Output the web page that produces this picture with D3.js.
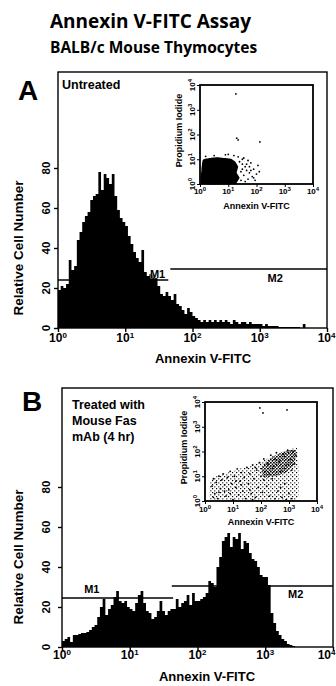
<!DOCTYPE html>
<html>
<head>
<meta charset="utf-8">
<script src="https://cdn.jsdelivr.net/npm/d3@7"></script>
<style>
  body { margin: 0; background: #fff; }
  svg { display: block; font-family: "Liberation Sans", Arial, sans-serif; }
</style>
</head>
<body>
<svg id="chart" width="336" height="686"></svg>
<script>
// ---- data ----
const decades = [0, 1, 2, 3, 4];          // log10 of the axis ticks
const countTicks = [0, 20, 40, 60, 80];
const binStep = 0.04;                      // each channel is 0.04 decade wide

// relative cell number per channel, panel A (untreated)
const histA = [19, 21, 20, 22, 34, 29, 31, 44, 48, 53,
  56, 58, 64, 66, 67, 78, 69, 77, 75, 72,
  77, 66, 59, 55, 53, 51, 46, 42, 38, 35,
  33, 39, 28, 26, 27, 27, 25, 21, 17, 16,
  18, 16, 14, 17, 12, 11, 9, 7, 10, 8,
  6, 5, 4, 3, 4, 3, 4, 3, 4, 3,
  4, 3, 4, 3, 2, 4, 3, 2, 3, 3,
  2, 3, 2, 2, 2, 2, 1, 2, 1, 1,
  1, 1, 0.5, 0.5, 0.5, 0.5, 0.5, 0.5, 0.5, 0.5,
  0, 2, 0, 0, 0, 0, 0, 0, 0, 0];

// panel B (Fas mAb, 4 hr)
const histB = [3, 4, 5, 2.5, 6, 6, 6.5, 7, 7, 7.5,
  8.5, 10, 11, 15, 20, 24, 16, 19, 21, 25,
  28, 23, 22, 23, 20, 19, 18, 22, 26, 28,
  22, 18, 17, 14, 15, 18, 23, 18, 16, 18,
  19, 19, 24, 20, 22, 23, 26, 21, 27, 23,
  23, 24, 25, 27, 33, 32, 30, 40, 45, 53,
  55, 57, 50, 55, 54, 57, 49, 53, 52, 47,
  44, 43, 40, 36, 35, 35, 31, 17, 12, 8,
  6, 4, 3, 1.5, 1, 0.5, 0, 0, 0, 0,
  0, 0, 0, 0, 0, 0, 0, 0, 0, 0];

// gates: range in decades, height in cell number
const gatesA = [{ name: "M1", lo: 0, hi: 1.64, level: 24 }, { name: "M2", lo: 1.67, hi: 4, level: 29.5 }];
const gatesB = [{ name: "M1", lo: 0, hi: 1.64, level: 24.5 }, { name: "M2", lo: 1.62, hi: 4, level: 30.5 }];

// dot plots, [log Annexin, log PI]
const coreA = [[0.05, 0], [0.05, 0.55], [0.1, 0.98], [0.35, 1.05], [0.6, 1.08], [0.85, 1.05], [1.1, 1.02],
  [1.25, 0.9], [1.35, 0.7], [1.3, 0.45], [1.4, 0.25], [1.3, 0.05], [1.25, 0]];
const dotsA = [[1.4, 0.9], [1.5, 0.8], [1.45, 0.5], [1.55, 0.35], [1.6, 0.7], [1.65, 0.55], [1.7, 0.2],
  [1.75, 0.45], [1.8, 0.85], [1.85, 0.3], [1.9, 0.6], [1.95, 0.15], [2.0, 0.4], [2.05, 0.75], [1.5, 1.0],
  [1.35, 1.1], [1.2, 1.15], [0.9, 1.18], [0.5, 1.15], [1.6, 0.1], [1.7, 0.95], [1.45, 0.15], [1.55, 1.05],
  [1.8, 0.55], [1.9, 0.25], [2.1, 0.5], [1.65, 0.8], [0.2, 1.12], [1.0, 1.2], [1.5, 0.6], [1.75, 0.7],
  [1.27, 3.64], [1.35, 1.78], [2.12, 1.7], [1.3, 1.85]];

const bandB = [[0.2, 0.05], [0.2, 0.8], [0.5, 1.05], [1.0, 1.2], [1.5, 1.4], [2.0, 1.6], [2.5, 1.85],
  [3.0, 2.05], [3.3, 2.1], [3.3, 0.05], [1.7, 0.02]];
const coreB = [[2.0, 1.35], [2.3, 1.7], [2.7, 1.95], [3.0, 2.05], [3.25, 2.05], [3.2, 1.5], [2.9, 1.15],
  [2.5, 1.0], [2.1, 0.95]];
const dotsB = [[0.25, 0.6], [0.3, 0.9], [0.35, 0.3], [0.4, 0.75], [0.45, 0.1], [0.5, 1.0], [0.55, 0.5],
  [0.6, 0.85], [0.3, 0.15], [0.5, 0.35], [0.65, 1.1], [0.7, 0.65], [0.75, 0.2], [0.8, 0.95], [0.85, 0.45],
  [0.9, 1.2], [0.95, 0.7], [1.0, 0.05], [0.7, 0.4], [0.9, 0.3], [1.05, 1.0], [1.1, 0.55], [1.15, 1.3],
  [1.2, 0.25], [1.25, 0.8], [1.3, 1.15], [1.35, 0.4], [1.4, 0.95], [1.45, 0.1], [1.5, 1.35], [1.1, 0.8],
  [1.3, 0.65], [1.55, 0.7], [1.6, 1.1], [1.65, 0.3], [1.7, 1.45], [1.75, 0.9], [1.8, 0.15], [1.85, 1.25],
  [1.9, 0.55], [1.95, 1.55], [2.0, 1.0], [1.6, 0.45], [1.8, 1.35], [1.7, 0.05], [2.05, 0.35], [2.1, 1.7],
  [2.15, 1.2], [2.2, 0.6], [2.25, 1.5], [2.3, 0.2], [2.35, 1.85], [2.4, 0.9], [2.45, 1.4], [2.5, 0.1],
  [2.1, 0.85], [2.3, 1.1], [2.5, 1.7], [2.55, 1.95], [2.6, 0.4], [2.65, 1.6], [2.7, 1.2], [2.75, 0.15],
  [2.8, 1.9], [2.85, 0.7], [2.9, 1.45], [2.95, 2.05], [3.0, 0.3], [3.05, 1.7], [3.1, 1.25], [3.15, 2.0],
  [3.2, 1.5], [3.25, 1.85], [2.9, 0.05], [3.1, 0.1], [2.7, 0.55],
  [1.96, 3.76], [2.07, 3.56], [2.93, 3.68]];

// ---- drawing ----
const svg = d3.select("#chart");
const W = 336;
const pow10 = v => Math.pow(10, v);

// speckle fills for the dense parts of the dot plots
const defs = svg.append("defs");
const sparse = defs.append("pattern").attr("id", "sparse")
  .attr("width", 4).attr("height", 4).attr("patternUnits", "userSpaceOnUse");
sparse.append("rect").attr("x", 0).attr("y", 0).attr("width", 1.2).attr("height", 1.2);
sparse.append("rect").attr("x", 2.2).attr("y", 2.3).attr("width", 1.1).attr("height", 1.1);
const dense = defs.append("pattern").attr("id", "dense")
  .attr("width", 3).attr("height", 3).attr("patternUnits", "userSpaceOnUse");
dense.append("rect").attr("x", 0).attr("y", 0).attr("width", 1.6).attr("height", 1.4);
dense.append("rect").attr("x", 1.7).attr("y", 1.5).attr("width", 1.3).attr("height", 1.3);

function powerLabel(sel, exp, supSize) {
  sel.append("tspan").text("10");
  sel.append("tspan").attr("dy", -supSize * 0.55).attr("font-size", supSize).text(exp);
}

svg.append("text").attr("x", 50).attr("y", 28)
  .attr("font-family", "'Open Sans', sans-serif").attr("font-weight", 700).attr("font-size", 19)
  .text("Annexin V-FITC Assay");
svg.append("text").attr("x", 50).attr("y", 53)
  .attr("font-family", "'Open Sans', sans-serif").attr("font-weight", 700).attr("font-size", 15.5)
  .text("BALB/c Mouse Thymocytes");

function drawPanel(p) {
  const x = d3.scaleLog().domain([1, 1e4]).range([p.left, p.right]);
  const y = d3.scaleLinear().domain([0, (p.bottom - p.top) / 2]).range([p.bottom, p.top]);

  // histogram
  const pts = p.hist.map((v, i) => [pow10(i * binStep), v]);
  pts.push([pow10(p.hist.length * binStep), 0]);
  const area = d3.area()
    .x(d => x(d[0])).y0(y(0)).y1(d => y(d[1]))
    .curve(d3.curveStepAfter);
  svg.append("path").datum(pts).attr("d", area).attr("fill", "#000");

  // frame
  svg.append("rect")
    .attr("x", p.left).attr("y", p.top)
    .attr("width", p.right - p.left).attr("height", p.bottom - p.top)
    .attr("fill", "none").attr("stroke", "#000").attr("stroke-width", 1.4);

  // axes
  const gx = svg.append("g").attr("transform", `translate(0,${p.bottom})`)
    .call(d3.axisBottom(x).tickValues(decades.map(pow10)).tickSize(4).tickFormat(""));
  gx.select(".domain").remove();
  gx.selectAll("line").attr("stroke-width", 1.4);
  const gy = svg.append("g").attr("transform", `translate(${p.left},0)`)
    .call(d3.axisLeft(y).tickValues(countTicks).tickSize(4).tickFormat(""));
  gy.select(".domain").remove();
  gy.selectAll("line").attr("stroke-width", 1.4);

  decades.forEach(d => {
    const t = svg.append("text").attr("x", x(pow10(d))).attr("y", p.tickY)
      .attr("text-anchor", "middle").attr("font-weight", "bold").attr("font-size", 12);
    powerLabel(t, d, 8);
    // keep the last label inside the page
    const bb = t.node().getBBox();
    if (bb.x + bb.width > W) t.attr("x", +t.attr("x") - (bb.x + bb.width - W));
  });
  countTicks.forEach(v => {
    svg.append("text")
      .attr("transform", `translate(50,${y(v)}) rotate(-90)`)
      .attr("text-anchor", "middle").attr("font-weight", "bold").attr("font-size", 11.5)
      .text(v);
  });

  svg.append("text").attr("x", p.xLabelX).attr("y", p.xLabelY)
    .attr("text-anchor", "middle").attr("font-weight", "bold").attr("font-size", 13)
    .text("Annexin V-FITC");
  svg.append("text")
    .attr("transform", `translate(23,${p.yLabelY}) rotate(-90)`)
    .attr("text-anchor", "middle").attr("font-weight", "bold").attr("font-size", 13.5)
    .text("Relative Cell Number");

  // gates
  p.gates.forEach((g, i) => {
    svg.append("line")
      .attr("x1", x(pow10(g.lo))).attr("x2", x(pow10(g.hi)))
      .attr("y1", y(g.level)).attr("y2", y(g.level))
      .attr("stroke", "#000").attr("stroke-width", 1.6);
    const lab = p.gateLabels[i];
    svg.append("text")
      .attr("x", x(pow10(lab.at))).attr("y", y(g.level) + lab.dy)
      .attr("text-anchor", "middle").attr("font-weight", "bold").attr("font-size", 11)
      .attr("fill", "#000").attr("stroke", "#fff").attr("stroke-width", 0.6).attr("paint-order", "stroke")
      .text(g.name);
  });

  // panel letter and condition
  svg.append("text").attr("x", p.letterX).attr("y", p.letterY)
    .attr("font-weight", "bold").attr("font-size", 28).text(p.letter);
  p.caption.forEach((line, i) => {
    svg.append("text").attr("x", p.left + p.captionDx).attr("y", p.captionY + i * 16)
      .attr("font-weight", "bold").attr("font-size", 12.5).text(line);
  });

  drawInset(p.inset);
}

function drawInset(s) {
  const x = d3.scaleLog().domain([1, 1e4]).range([s.left, s.right]);
  const y = d3.scaleLog().domain([1, 1e4]).range([s.bottom, s.top]);
  const toPt = d => [x(pow10(d[0])), y(pow10(d[1]))];

  svg.append("rect").attr("x", s.left).attr("y", s.top)
    .attr("width", s.right - s.left).attr("height", s.bottom - s.top).attr("fill", "#fff");

  s.areas.forEach(a => {
    svg.append("path").datum(a.shape.map(toPt))
      .attr("d", d3.line().curve(d3.curveCardinalClosed.tension(0.6)))
      .attr("fill", a.fill);
  });
  svg.append("g").selectAll("circle").data(s.dots).join("circle")
    .attr("cx", d => toPt(d)[0]).attr("cy", d => toPt(d)[1])
    .attr("r", 0.9).attr("fill", "#000");

  svg.append("rect").attr("x", s.left).attr("y", s.top)
    .attr("width", s.right - s.left).attr("height", s.bottom - s.top)
    .attr("fill", "none").attr("stroke", "#000").attr("stroke-width", 1.8);

  const gx = svg.append("g").attr("transform", `translate(0,${s.bottom})`)
    .call(d3.axisBottom(x).tickValues(decades.map(pow10)).tickSize(3).tickFormat(""));
  gx.select(".domain").remove();
  const gy = svg.append("g").attr("transform", `translate(${s.left},0)`)
    .call(d3.axisLeft(y).tickValues(decades.map(pow10)).tickSize(3).tickFormat(""));
  gy.select(".domain").remove();

  decades.forEach(d => {
    const t = svg.append("text").attr("x", x(pow10(d))).attr("y", s.tickY)
      .attr("text-anchor", "middle").attr("font-weight", "bold").attr("font-size", 8);
    powerLabel(t, d, 6);
    const r = svg.append("text")
      .attr("transform", `translate(${s.left - 5},${y(pow10(d))}) rotate(-90)`)
      .attr("text-anchor", "middle").attr("font-weight", "bold").attr("font-size", 8);
    powerLabel(r, d, 6);
  });
  svg.append("text").attr("x", (s.left + s.right) / 2).attr("y", s.xLabelY)
    .attr("text-anchor", "middle").attr("font-weight", "bold").attr("font-size", 9)
    .text("Annexin V-FITC");
  svg.append("text")
    .attr("transform", `translate(${s.left - 18},${(s.top + s.bottom) / 2 - 4}) rotate(-90)`)
    .attr("text-anchor", "middle").attr("font-weight", "bold").attr("font-size", 9)
    .text("Propidium Iodide");
}

drawPanel({
  letter: "A", letterX: 18, letterY: 100,
  left: 58, right: 327, top: 72, bottom: 328,
  hist: histA, gates: gatesA,
  gateLabels: [{ at: 1.48, dy: -2 }, { at: 3.23, dy: 13 }],
  tickY: 342, xLabelX: 203, xLabelY: 363, yLabelY: 248,
  caption: ["Untreated"], captionDx: 4, captionY: 89,
  inset: { left: 200, right: 313, top: 85, bottom: 184, tickY: 194, xLabelY: 209,
    areas: [{ shape: coreA, fill: "#000" }], dots: dotsA }
});

drawPanel({
  letter: "B", letterX: 22, letterY: 411,
  left: 62, right: 333, top: 388, bottom: 647,
  hist: histB, gates: gatesB,
  gateLabels: [{ at: 0.44, dy: -5 }, { at: 3.45, dy: 12 }],
  tickY: 659, xLabelX: 207, xLabelY: 681, yLabelY: 557,
  caption: ["Treated with", "Mouse Fas", "mAb (4 hr)"], captionDx: 10, captionY: 409,
  inset: { left: 205, right: 317, top: 402, bottom: 501, tickY: 512, xLabelY: 525,
    areas: [{ shape: bandB, fill: "url(#sparse)" }, { shape: coreB, fill: "url(#dense)" }], dots: dotsB }
});
</script>
</body>
</html>
